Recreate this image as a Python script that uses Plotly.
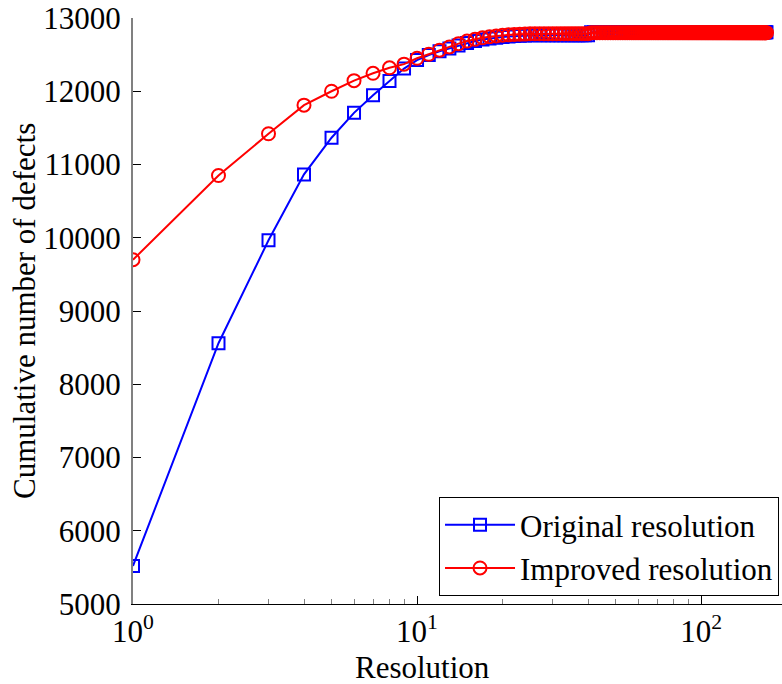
import plotly.graph_objects as go

resolution = list(range(1, 171))

original_head = [5520, 8560, 9965, 10865, 11365, 11705, 11945, 12140, 12310, 12425,
                 12495, 12545, 12585, 12625, 12660, 12685, 12705, 12720, 12730, 12740,
                 12748, 12753, 12758, 12762, 12765, 12765, 12765, 12765, 12765, 12765,
                 12765, 12765, 12765, 12765, 12765, 12765, 12765, 12765, 12765, 12765]
original_tail_level = 12805
improved_head = [9700, 10850, 11420, 11810, 12000, 12145, 12245, 12320, 12370, 12450,
                 12505, 12560, 12605, 12650, 12685, 12710, 12730, 12745, 12755, 12765,
                 12770, 12775, 12778, 12780, 12785, 12785, 12785, 12785, 12785, 12785,
                 12785, 12785, 12785, 12785, 12785, 12785, 12785, 12785, 12785, 12785]
improved_tail_level = 12800

n_tail = len(resolution) - len(original_head)
original = original_head + [original_tail_level] * n_tail
improved = improved_head + [improved_tail_level] * n_tail

series_names = ["Original resolution", "Improved resolution"]
x_tickvals = [1, 10, 100]
x_ticktext = ["10<sup>0</sup>", "10<sup>1</sup>", "10<sup>2</sup>"]
x_minor = [2, 3, 4, 5, 6, 7, 8, 9, 20, 30, 40, 50, 60, 70, 80, 90]
y_tickvals = [5000, 6000, 7000, 8000, 9000, 10000, 11000, 12000, 13000]
y_ticktext = ["5000", "6000", "7000", "8000", "9000", "10000", "11000", "12000", "13000"]

FONT = "Liberation Serif, Times New Roman, serif"
FS = 31
W, H = 782, 684
L, R, T, B = 133, 0, 18, 80

fig = go.Figure()
fig.add_trace(go.Scatter(
    x=resolution, y=original, mode="lines+markers", name=series_names[0],
    line=dict(color="#0000ff", width=2),
    marker=dict(symbol="square-open", size=12, color="#0000ff", line=dict(width=2, color="#0000ff")),
))
fig.add_trace(go.Scatter(
    x=resolution, y=improved, mode="lines+markers", name=series_names[1],
    line=dict(color="#ff0000", width=2),
    marker=dict(symbol="circle-open", size=13, color="#ff0000", line=dict(width=2, color="#ff0000")),
))

fig.update_layout(
    width=W, height=H,
    margin=dict(l=L, r=R, t=T, b=B, pad=0),
    paper_bgcolor="white", plot_bgcolor="white",
    font=dict(family=FONT, size=FS, color="black"),
    showlegend=True,
    legend=dict(
        x=0.9954, y=0.0136, xanchor="right", yanchor="bottom",
        bgcolor="white", bordercolor="black", borderwidth=1,
        font=dict(family=FONT, size=FS), tracegroupgap=0,
        itemwidth=70,
    ),
    xaxis=dict(
        type="log", range=[0, 2.285],
        tickmode="array", tickvals=x_tickvals, ticktext=x_ticktext,
        ticks="inside", ticklen=8, tickcolor="black", tickwidth=1,
        minor=dict(tickmode="array", tickvals=x_minor, ticks="inside", ticklen=5,
                   tickcolor="#808080", tickwidth=1, showgrid=False),
        showline=True, linecolor="black", linewidth=1,
        showgrid=False, zeroline=False,
        tickfont=dict(family=FONT, size=FS),
    ),
    yaxis=dict(
        range=[5000, 13000],
        tickmode="array", tickvals=y_tickvals, ticktext=y_ticktext,
        ticks="inside", ticklen=8, tickcolor="black", tickwidth=1,
        showline=True, linecolor="#808080", linewidth=2,
        showgrid=False, zeroline=False,
        tickfont=dict(family=FONT, size=FS),
        ticklabelstandoff=4,
    ),
    annotations=[
        dict(text="Resolution", xref="paper", yref="paper",
             x=(422 - L) / (W - L - R), y=-(667 - (H - B)) / (H - T - B),
             xanchor="center", yanchor="middle", showarrow=False,
             font=dict(family=FONT, size=FS)),
        dict(text="Cumulative number of defects", xref="paper", yref="paper",
             x=-(L - 24) / (W - L - R), y=0.5, textangle=-90,
             xanchor="center", yanchor="middle", showarrow=False,
             font=dict(family=FONT, size=FS)),
    ],
)

fig.write_html("out.html")
